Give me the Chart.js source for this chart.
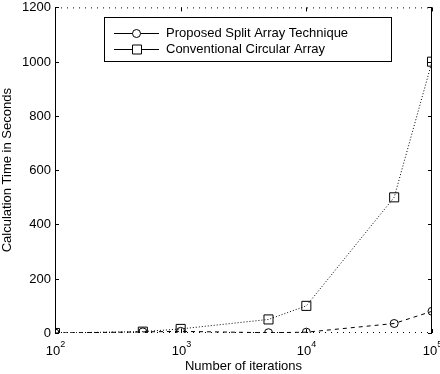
<!DOCTYPE html>
<html>
<head>
<meta charset="utf-8">
<script src="https://cdn.jsdelivr.net/npm/chart.js@4.4.0/dist/chart.umd.min.js"></script>
<style>
  html, body { margin: 0; padding: 0; background: #fff; }
  #wrap { width: 440px; height: 374px; }
</style>
</head>
<body>
<div id="wrap"><canvas id="chart" width="440" height="374"></canvas></div>
<script>
const iterations = [100, 500, 1000, 5000, 10000, 50000, 100000];
const proposedTimes = [0, 4, 6, 1, 3, 35, 80];
const conventionalTimes = [0, 5, 15, 50, 100, 500, 1000];
const seriesNames = ["Proposed Split Array Technique", "Conventional Circular Array"];
const yTicks = [0, 200, 400, 600, 800, 1000, 1200];
const xDecades = [2, 3, 4, 5];

const FONT = "'Liberation Sans', Arial, sans-serif";

// frame, inward ticks, power-of-ten labels and the boxed legend
const matlabAxes = {
  id: "matlabAxes",
  afterDraw(chart) {
    const ctx = chart.ctx;
    const a = chart.chartArea;
    const xs = chart.scales.x, ys = chart.scales.y;
    ctx.save();
    ctx.strokeStyle = "#000";
    ctx.lineWidth = 1;

    // left and right solid
    ctx.beginPath();
    ctx.moveTo(a.left + 0.5, a.top); ctx.lineTo(a.left + 0.5, a.bottom);
    ctx.moveTo(a.right - 0.5, a.top); ctx.lineTo(a.right - 0.5, a.bottom);
    ctx.stroke();
    // top and bottom dotted
    ctx.setLineDash([1, 5]);
    ctx.beginPath();
    ctx.moveTo(a.left, a.top + 0.5); ctx.lineTo(a.right, a.top + 0.5);
    ctx.moveTo(a.left, a.bottom - 0.5); ctx.lineTo(a.right, a.bottom - 0.5);
    ctx.stroke();
    ctx.setLineDash([]);

    // y ticks
    ctx.fillStyle = "#000";
    ctx.font = "13px " + FONT;
    ctx.textAlign = "right";
    ctx.textBaseline = "middle";
    yTicks.forEach(v => {
      const y = Math.round(ys.getPixelForValue(v)) + 0.5;
      ctx.beginPath();
      ctx.moveTo(a.left, y); ctx.lineTo(a.left + 4, y);
      ctx.moveTo(a.right, y); ctx.lineTo(a.right - 4, y);
      ctx.stroke();
      ctx.fillText(String(v), a.left - 4, y);
    });

    // x ticks with superscript exponents
    xDecades.forEach(p => {
      const x = Math.round(xs.getPixelForValue(Math.pow(10, p))) + 0.5;
      ctx.beginPath();
      ctx.moveTo(x, a.bottom); ctx.lineTo(x, a.bottom - 4);
      ctx.moveTo(x, a.top); ctx.lineTo(x, a.top + 4);
      ctx.stroke();
      ctx.font = "13px " + FONT;
      const wBase = ctx.measureText("10").width;
      ctx.font = "9px " + FONT;
      const wExp = ctx.measureText(String(p)).width;
      const x0 = x - (wBase + wExp) / 2;
      ctx.textAlign = "left";
      ctx.textBaseline = "alphabetic";
      ctx.font = "13px " + FONT;
      ctx.fillText("10", x0, a.bottom + 22);
      ctx.font = "9px " + FONT;
      ctx.fillText(String(p), x0 + wBase, a.bottom + 14);
    });

    // legend box
    const bx = 104.5, by = 17.5, bw = 287, bh = 44;
    ctx.fillStyle = "#fff";
    ctx.fillRect(bx, by, bw, bh);
    ctx.strokeRect(bx, by, bw, bh);
    ctx.font = "13px " + FONT;
    ctx.textAlign = "left";
    ctx.textBaseline = "middle";
    chart.data.datasets.forEach((ds, i) => {
      const y = Math.round(by + 15 + i * 16) + 0.5;
      ctx.beginPath();
      ctx.moveTo(114, y); ctx.lineTo(159, y);
      ctx.stroke();
      ctx.beginPath();
      if (ds.pointStyle === "circle") {
        ctx.arc(136.5, y, 4, 0, Math.PI * 2);
      } else {
        ctx.rect(132.5, y - 4.5, 9, 9);
      }
      ctx.fillStyle = "#fff";
      ctx.fill();
      ctx.stroke();
      ctx.fillStyle = "#000";
      ctx.fillText(ds.label, 166, y);
    });
    ctx.restore();
  }
};

new Chart(document.getElementById("chart"), {
  type: "line",
  data: {
    labels: iterations,
    datasets: [
      {
        label: seriesNames[0],
        data: iterations.map((x, i) => ({ x: x, y: proposedTimes[i] })),
        borderColor: "#000",
        borderWidth: 1,
        borderDash: [4, 4],
        pointStyle: "circle",
        pointRadius: 4,
        pointBorderWidth: 1,
        pointBorderColor: "#000",
        pointBackgroundColor: "rgba(0,0,0,0)",
        tension: 0
      },
      {
        label: seriesNames[1],
        data: iterations.map((x, i) => ({ x: x, y: conventionalTimes[i] })),
        borderColor: "#000",
        borderWidth: 1,
        borderDash: [1, 2],
        pointStyle: "rect",
        pointRadius: 6.4,
        pointBorderWidth: 1,
        pointBorderColor: "#000",
        pointBackgroundColor: "rgba(0,0,0,0)",
        tension: 0
      }
    ]
  },
  options: {
    responsive: false,
    animation: false,
    layout: { padding: { top: 5, right: 8, left: 0, bottom: 0 } },
    plugins: {
      legend: { display: false },
      tooltip: { enabled: false }
    },
    scales: {
      x: {
        type: "logarithmic",
        min: 100,
        max: 100000,
        grid: { display: false, drawTicks: false },
        border: { display: false },
        ticks: { display: false },
        title: {
          display: true,
          text: "Number of iterations",
          color: "#000",
          font: { family: FONT, size: 13 },
          padding: { top: 0, bottom: 0 }
        },
        afterFit(scale) { scale.height = 41; }
      },
      y: {
        min: 0,
        max: 1200,
        grid: { display: false, drawTicks: false },
        border: { display: false },
        ticks: { display: false, stepSize: 200 },
        title: {
          display: true,
          text: "Calculation Time in Seconds",
          color: "#000",
          font: { family: FONT, size: 13 },
          padding: { top: 0, bottom: 0 }
        },
        afterFit(scale) { scale.width = 55; }
      }
    }
  },
  plugins: [matlabAxes]
});
</script>
</body>
</html>
